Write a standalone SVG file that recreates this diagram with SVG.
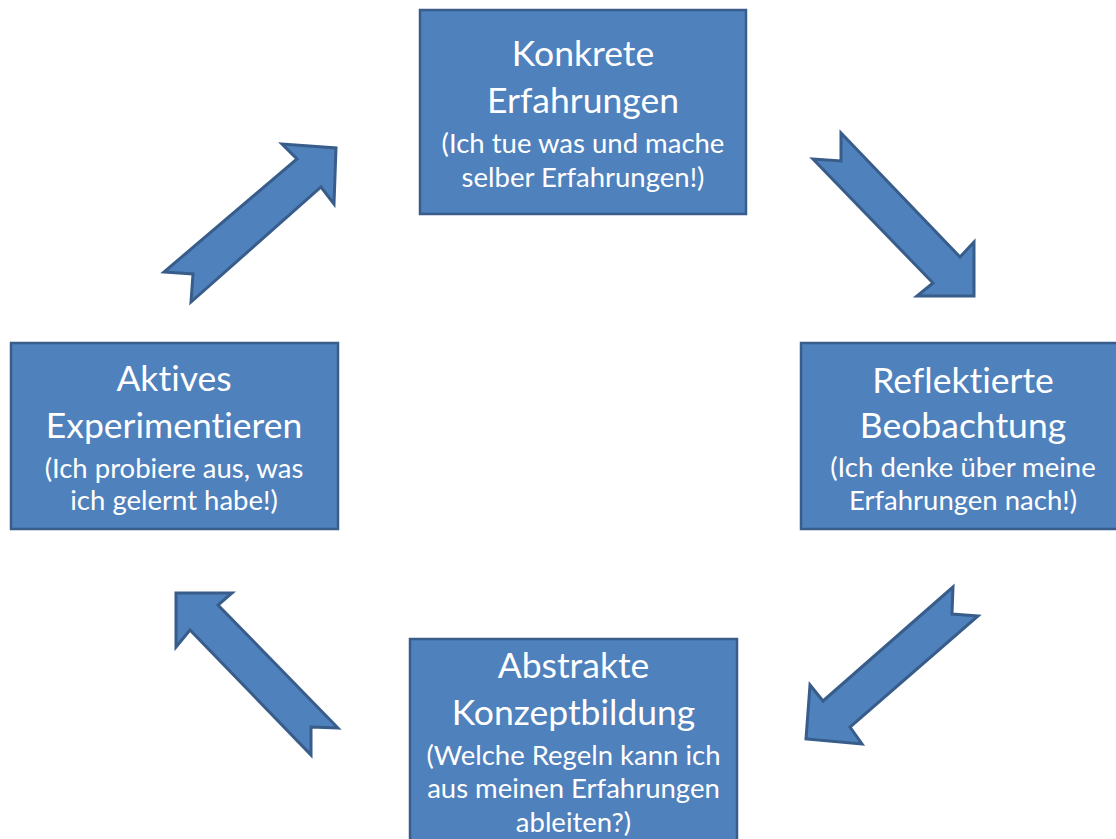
<svg xmlns="http://www.w3.org/2000/svg" width="1116" height="839" viewBox="0 0 1116 839">
<style>
.box{fill:#4F81BD;stroke:#385D8A;stroke-width:2.5}
.arr{fill:#4F81BD;stroke:#385D8A;stroke-width:3;stroke-linejoin:miter}
.t{font-family:Lato,"Open Sans",sans-serif;fill:#fff;text-anchor:middle;font-variant-ligatures:none}
.h{font-size:35.5px}
.s{font-size:27.5px}
</style>
<rect width="1116" height="839" fill="#fff"/>
<g id="connectors">
<polygon class="arr" points="164,272 193,274 191,302 321,187 334,204 336,148 282,144 297,159"/>
<polygon class="arr" points="841,133 841,161 813,159 933,283 917,296 974,296 974,242 960,257"/>
<polygon class="arr" points="953,587 952,614 978,616 850,727 862,744 806,739 810,685 823,701"/>
<polygon class="arr" points="338,728 311,727 311,755 190,630 176,647 176,593 232,593 218,605"/>
</g>
<g id="n1">
<rect class="box" x="420" y="10" width="326" height="204"/>
<text class="t h" x="583" y="66">Konkrete</text>
<text class="t h" x="583" y="113">Erfahrungen</text>
<text class="t s" x="583" y="153">(Ich tue was und mache</text>
<text class="t s" x="583" y="187">selber Erfahrungen!)</text>
</g>
<g id="n2">
<rect class="box" x="801" y="343" width="330" height="186"/>
<text class="t h" x="963" y="393">Reflektierte</text>
<text class="t h" x="963" y="438">Beobachtung</text>
<text class="t s" x="963" y="477">(Ich denke über meine</text>
<text class="t s" x="963" y="510">Erfahrungen nach!)</text>
</g>
<g id="n3">
<rect class="box" x="410" y="639" width="327" height="220"/>
<text class="t h" x="573.5" y="678">Abstrakte</text>
<text class="t h" x="573.5" y="725">Konzeptbildung</text>
<text class="t s" x="573.5" y="765">(Welche Regeln kann ich</text>
<text class="t s" x="573.5" y="798">aus meinen Erfahrungen</text>
<text class="t s" x="573.5" y="832">ableiten?)</text>
</g>
<g id="n4">
<rect class="box" x="11" y="343" width="327" height="186"/>
<text class="t h" x="174" y="391">Aktives</text>
<text class="t h" x="174" y="438">Experimentieren</text>
<text class="t s" x="174" y="478">(Ich probiere aus, was</text>
<text class="t s" x="174" y="510">ich gelernt habe!)</text>
</g>
</svg>
